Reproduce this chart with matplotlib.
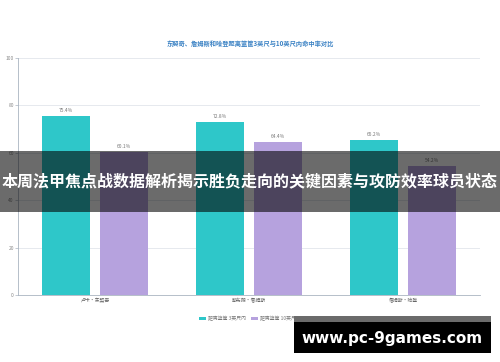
import numpy as np
import matplotlib.pyplot as plt
from matplotlib.patches import Rectangle

plt.rcParams['font.family'] = ['Noto Sans CJK SC', 'DejaVu Sans']

# 数据
球员 = ['卢卡·东契奇', '勒布朗·詹姆斯', '詹姆斯·哈登']
三英尺内 = [75.4, 72.8, 65.2]
十英尺内 = [60.1, 64.4, 54.2]
系列名 = ['距离篮筐 3英尺内', '距离篮筐 10英尺内']
y刻度 = [0, 20, 40, 60, 80, 100]

fig = plt.figure(figsize=(5, 3.62), dpi=100)
ax = fig.add_axes([0.036, 0.185, 0.924, 0.656])

x = np.arange(len(球员))
w = 0.31
b1 = ax.bar(x - 0.19, 三英尺内, w, color='#2ec7c9', label=系列名[0])
b2 = ax.bar(x + 0.19, 十英尺内, w, color='#b6a2de', label=系列名[1])
for bars, vals in [(b1, 三英尺内), (b2, 十英尺内)]:
    for r, v in zip(bars, vals):
        ax.text(r.get_x() + r.get_width() / 2, v + 1.2, f'{v}%', ha='center',
                va='bottom', fontsize=3.5, color='#777777')

ax.set_xlim(-0.5, 2.5)
ax.set_ylim(0, 100)
ax.set_yticks(y刻度)
ax.set_yticklabels([str(t) for t in y刻度], fontsize=3.5, color='#888888')
ax.set_xticks(x)
ax.set_xticklabels(球员, fontsize=3.5, color='#666666')
ax.tick_params(axis='y', length=2, width=0.5, color='#aab4c0', pad=1)
ax.tick_params(axis='x', length=0, pad=2)
ax.grid(axis='y', color='#e6e9ee', linewidth=0.7)
ax.set_axisbelow(True)
for s in ['top', 'right']:
    ax.spines[s].set_visible(False)
ax.spines['left'].set_color('#aab4c0')
ax.spines['left'].set_linewidth(0.6)
ax.spines['bottom'].set_color('#aab4c0')
ax.spines['bottom'].set_linewidth(0.6)

fig.text(0.5, 0.88, '东契奇、詹姆斯和哈登距离篮筐3英尺与10英尺内命中率对比',
         ha='center', va='center', fontsize=4.5, color='#3b82c4', fontweight='bold')

ax.legend(loc='center', bbox_to_anchor=(0.5, 0.12), bbox_transform=fig.transFigure,
          ncol=2, frameon=False, fontsize=3.5, handlelength=1.5, handleheight=0.8,
          columnspacing=1.0, handletextpad=0.4, labelcolor='#777777')

# 横幅遮罩
fig.patches.append(Rectangle((0, 1 - 212 / 362), 1, 61 / 362, transform=fig.transFigure,
                             facecolor='black', edgecolor='none', linewidth=0,
                             alpha=0.58, zorder=10))
fig.text(0.5, 1 - 181 / 362, '本周法甲焦点战数据解析揭示胜负走向的关键因素与攻防效率球员状态',
         ha='center', va='center', fontsize=11.5, color='white', fontweight='bold', zorder=11)

# 水印
fig.patches.append(Rectangle((294 / 500, 1 - 322 / 362), 197 / 500, 6 / 362,
                             transform=fig.transFigure, facecolor='#6b6b6b',
                             edgecolor='none', linewidth=0, zorder=10))
fig.patches.append(Rectangle((294 / 500, 1 - 353 / 362), 197 / 500, 31 / 362,
                             transform=fig.transFigure, facecolor='black',
                             edgecolor='none', linewidth=0, zorder=10))
fig.text(392 / 500, 1 - 338 / 362, 'www.pc-9games.com', ha='center', va='center',
         fontsize=11, color='white', fontweight='bold', family='DejaVu Sans', zorder=11)

fig.savefig('out.png', dpi=100)
